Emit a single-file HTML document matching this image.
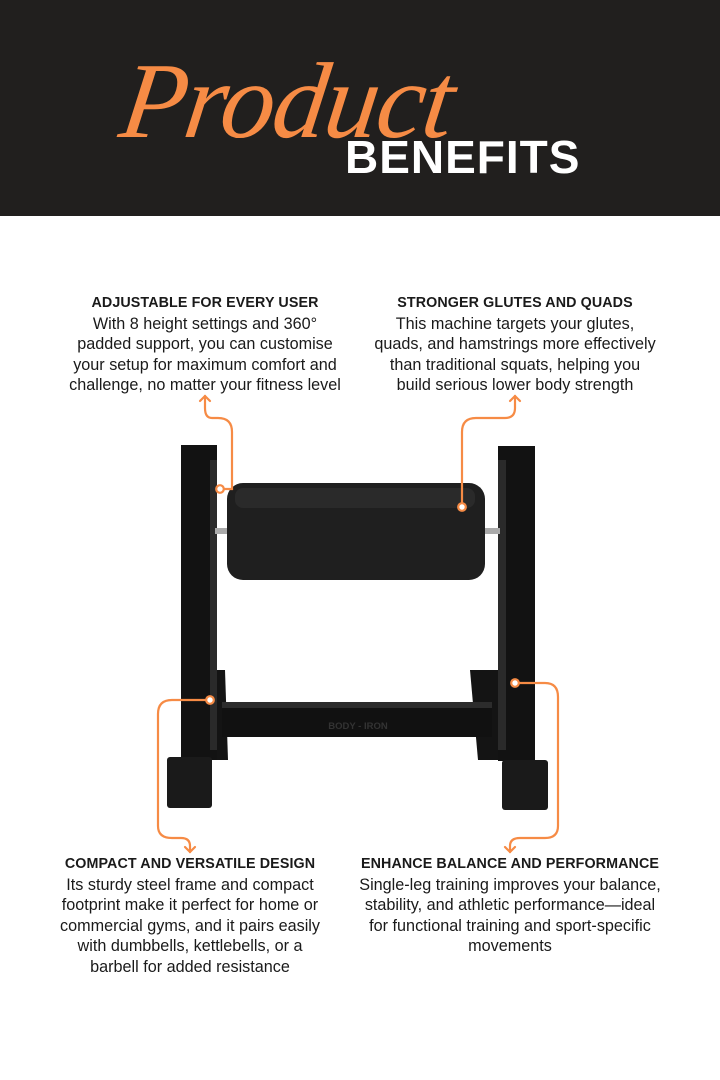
<!DOCTYPE html>
<html><head><meta charset="utf-8"><style>
body{margin:0;width:720px;height:1080px;background:#fff;position:relative;overflow:hidden;font-family:"Liberation Sans",sans-serif;}
.hdr{position:absolute;left:0;top:0;width:720px;height:216px;background:#211f1e;}
.t{position:absolute;width:360px;text-align:center;color:#1a1a1a;font-size:16.2px;line-height:20.5px;}
.t b{display:block;font-size:14.3px;letter-spacing:0.1px;}
</style></head><body>
<div class="hdr"></div>
<div style="position:absolute;left:122px;top:40px;font-family:'Liberation Serif',serif;font-style:italic;font-size:108px;color:#f68b45;letter-spacing:-2px;transform:skewX(-8deg);">Product</div>
<div style="position:absolute;left:345px;top:130px;font-family:'Liberation Sans',sans-serif;font-weight:bold;font-size:46px;color:#fff;letter-spacing:1px;">BENEFITS</div>

<div class="t" style="left:25px;top:293px;"><b>ADJUSTABLE FOR EVERY USER</b>With 8 height settings and 360°<br>padded support, you can customise<br>your setup for maximum comfort and<br>challenge, no matter your fitness level</div>
<div class="t" style="left:335px;top:293px;"><b>STRONGER GLUTES AND QUADS</b>This machine targets your glutes,<br>quads, and hamstrings more effectively<br>than traditional squats, helping you<br>build serious lower body strength</div>
<div class="t" style="left:10px;top:854px;"><b>COMPACT AND VERSATILE DESIGN</b>Its sturdy steel frame and compact<br>footprint make it perfect for home or<br>commercial gyms, and it pairs easily<br>with dumbbells, kettlebells, or a<br>barbell for added resistance</div>
<div class="t" style="left:330px;top:854px;"><b>ENHANCE BALANCE AND PERFORMANCE</b>Single-leg training improves your balance,<br>stability, and athletic performance—ideal<br>for functional training and sport-specific<br>movements</div>

<svg style="position:absolute;left:0;top:0" width="720" height="1080">
<path d="M190 670 L225 670 L228 760 L185 760 Z" fill="#141414"/>
<path d="M470 670 L500 670 L520 760 L478 760 Z" fill="#141414"/>
<rect x="181" y="445" width="36" height="315" fill="#121212"/>
<rect x="210" y="460" width="7" height="290" fill="#2a2a2a"/>
<rect x="498" y="446" width="37" height="315" fill="#121212"/>
<rect x="498" y="460" width="8" height="290" fill="#2a2a2a"/>
<rect x="215" y="528" width="285" height="6" fill="#aaa"/>
<rect x="227" y="483" width="258" height="97" rx="16" fill="#1f1f1f"/>
<rect x="235" y="488" width="240" height="20" rx="8" fill="#2a2a2a"/>
<rect x="222" y="702" width="270" height="35" fill="#111"/>
<rect x="222" y="702" width="270" height="6" fill="#2c2c2c"/>
<text x="358" y="729" font-size="9.5" font-weight="bold" fill="#333" text-anchor="middle" font-family="Liberation Sans">BODY - IRON</text>
<rect x="167" y="757" width="45" height="51" rx="3" fill="#1a1a1a"/>
<rect x="502" y="760" width="46" height="50" rx="3" fill="#1a1a1a"/>
<g fill="none" stroke="#f68b45" stroke-width="2.2" stroke-linecap="round">
<path d="M224 489 L232 489 L232 432 Q232 418 218 418 L212 418 Q205 418 205 408 L205 396"/>
<path d="M200 401 L205 396 L210 401"/>
<path d="M462 503 L462 432 Q462 418 476 418 L505 418 Q515 418 515 408 L515 396"/>
<path d="M510 401 L515 396 L520 401"/>
<path d="M206 700 L172 700 Q158 700 158 714 L158 826 Q158 838 172 838 L181 838 Q190 838 190 846 L190 852"/>
<path d="M185 847 L190 852 L195 847"/>
<path d="M519 683 L545 683 Q558 683 558 697 L558 826 Q558 838 545 838 L520 838 Q510 838 510 846 L510 852"/>
<path d="M505 847 L510 852 L515 847"/>
</g>
<g fill="#fff" stroke="#f68b45" stroke-width="2.2">
<circle cx="220" cy="489" r="3.8"/><circle cx="462" cy="507" r="3.8"/>
<circle cx="210" cy="700" r="3.8"/><circle cx="515" cy="683" r="3.8"/>
</g>
</svg>
</body></html>
